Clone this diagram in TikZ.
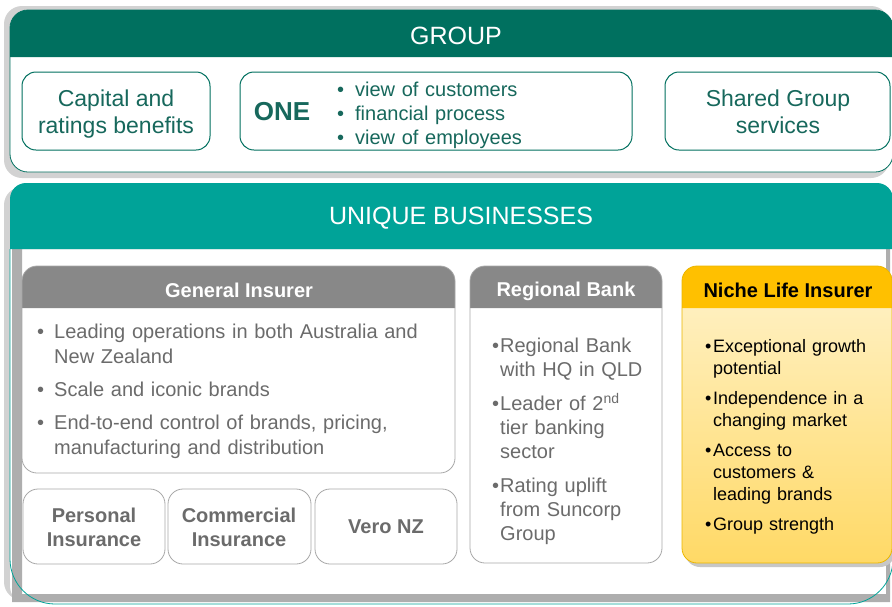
\documentclass[tikz,border=0pt]{standalone}
\usepackage{fontspec}
\setmainfont{Liberation Sans}
\definecolor{groupteal}{HTML}{00705F}
\definecolor{groupink}{HTML}{17685C}
\definecolor{uniqteal}{HTML}{00A398}
\definecolor{cardgray}{HTML}{888888}
\definecolor{cardedge}{HTML}{A8A8A8}
\definecolor{inkgray}{HTML}{6B6B6B}
\definecolor{nicheyellow}{HTML}{FFC000}
\definecolor{nicheedge}{HTML}{EBB600}
\definecolor{nichetop}{HTML}{FFF3CC}
\definecolor{nichebot}{HTML}{FFD966}
\definecolor{shadeone}{HTML}{D2D2D2}
\definecolor{shadetwo}{HTML}{AEAEAE}
\newcommand{\bul}[2][17pt]{\hangindent=#1\hangafter=1\noindent\makebox[#1][l]{\textbullet}#2\par}

\begin{document}
\begin{tikzpicture}[x=1pt,y=-1pt,
  every node/.style={inner sep=0pt},
  tealbox/.style={draw=groupteal,line width=1pt,rounded corners=14},
  cardline/.style={draw=cardedge,line width=0.8pt,rounded corners=15},
  grouptxt/.style={text=groupink,align=center,font=\fontsize{23}{27}\selectfont},
  paneltitle/.style={text=white,font=\fontsize{25}{30}\selectfont},
  cardtitle/.style={text=white,font=\bfseries\fontsize{20}{24}\selectfont},
  cardlist/.style={anchor=north west,align=left,text=inkgray,font=\fontsize{20}{24}\selectfont},
  subtxt/.style={text=inkgray,align=center,font=\bfseries\fontsize{20}{24}\selectfont}]
\useasboundingbox (0,0) rectangle (892,606);
\clip (0,0) rectangle (892,606);

% group panel
\fill[shadeone,rounded corners=18] (4,6) rectangle (889,178);
\fill[white,rounded corners=18] (10,10) rectangle (893,172);
\fill[groupteal,rounded corners=18] (10,57) -- (10,10) -- (893,10) -- (893,57);
\draw[groupteal,line width=0.8pt,rounded corners=18] (10,10) rectangle (893,172);
\node[paneltitle] (group) at (456,36) {GROUP};

\draw[tealbox] (22,72) rectangle (210,150);
\node[grouptxt] (capital) at (116,114) {Capital and\\ratings benefits};
\draw[tealbox] (240,72) rectangle (632,150);
\node[text=groupink,font=\bfseries\fontsize{26}{30}\selectfont] (one) at (282,112) {ONE};
\node[cardlist,text=groupink,text width=260pt] (onelist) at (337,82)
  {\bul[18pt]{view of customers}\bul[18pt]{financial process}\bul[18pt]{view of employees}};
\draw[tealbox] (665,72) rectangle (890,150);
\node[grouptxt] (shared) at (778,112) {Shared Group\\services};

% unique businesses panel
\fill[shadeone,rounded corners=18] (4,187) rectangle (889,600);
\fill[white,rounded corners=18] (10,183) rectangle (893,604);
\fill[shadetwo,even odd rule] (12,249) rectangle (890,602) (22,249) rectangle (886,594);
\fill[uniqteal,rounded corners=16] (10,249) -- (10,183) -- (893,183) -- (893,249);
\draw[uniqteal,line width=0.8pt,rounded corners=45] (10,249) -- (10,604) -- (893,604) -- (893,249);
\node[paneltitle] (unique) at (461,218) {UNIQUE BUSINESSES};

% general insurer
\fill[white,rounded corners=15] (22,266) rectangle (455,473);
\fill[cardgray,rounded corners=15] (22,308) -- (22,266) -- (455,266) -- (455,308);
\draw[cardline] (22,266) rectangle (455,473);
\node[cardtitle] (gi) at (239,290) {General Insurer};
\node[cardlist,font=\fontsize{20}{25}\selectfont,text width=410pt] (gilist) at (37,324)
  {\setlength{\parskip}{8pt}\bul{Leading operations in both Australia and\newline New Zealand}\bul{Scale and iconic brands}\bul{End-to-end control of brands, pricing,\newline manufacturing and distribution}};

\fill[white,cardline] (23,489) rectangle (165,564);
\node[subtxt] (personal) at (94,527) {Personal\\Insurance};
\fill[white,cardline] (168,489) rectangle (311,564);
\node[subtxt] (commercial) at (239,527) {Commercial\\Insurance};
\fill[white,cardline] (315,489) rectangle (457,564);
\node[subtxt] (vero) at (386,527) {Vero NZ};

% regional bank
\fill[white,rounded corners=15] (470,266) rectangle (662,563);
\fill[cardgray,rounded corners=15] (470,308) -- (470,266) -- (662,266) -- (662,308);
\draw[cardline] (470,266) rectangle (662,563);
\node[cardtitle] (rb) at (566,291) {Regional Bank};
\node[cardlist,text width=165pt] (rblist) at (492,338)
  {\setlength{\parskip}{10pt}\bul[8pt]{Regional Bank\newline with HQ in QLD}\bul[8pt]{Leader of 2\textsuperscript{nd}\newline tier banking\newline sector}\bul[8pt]{Rating uplift\newline from Suncorp\newline Group}};

% niche life insurer
\fill[black!22,rounded corners=15] (685,270) rectangle (895,567);
\shade[top color=nichetop,bottom color=nichebot,rounded corners=15] (682,266) rectangle (892,563);
\fill[nicheyellow,rounded corners=15] (682,308) -- (682,266) -- (892,266) -- (892,308);
\draw[nicheedge,line width=0.8pt,rounded corners=15] (682,266) rectangle (892,563);
\node[cardtitle,text=black] (nli) at (788,290) {Niche Life Insurer};
\node[cardlist,text=black,font=\fontsize{18}{22}\selectfont,text width=180pt] (nlilist) at (705,339)
  {\setlength{\parskip}{8pt}\bul[8pt]{Exceptional growth\newline potential}\bul[8pt]{Independence in a\newline changing market}\bul[8pt]{Access to\newline customers \&\newline leading brands}\bul[8pt]{Group strength}};
\end{tikzpicture}
\end{document}
